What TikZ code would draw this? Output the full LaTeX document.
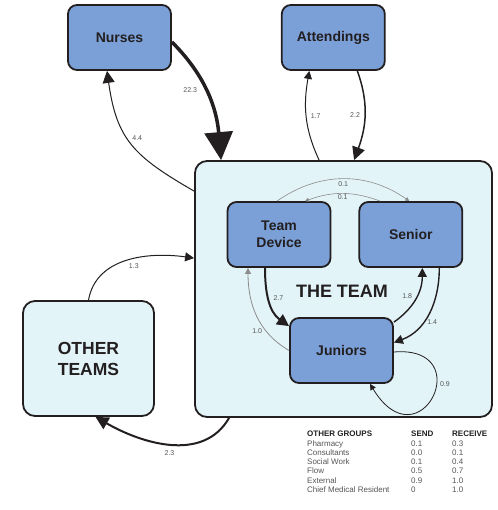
\documentclass[tikz,border=0pt]{standalone}
\usepackage{fontspec}
\setmainfont{Liberation Sans}
\usetikzlibrary{arrows.meta, positioning}
\usepackage{xcolor}
\definecolor{memberblue}{HTML}{7BA0D8}
\definecolor{teamfill}{HTML}{E3F4F9}
\definecolor{outline}{HTML}{231F20}
\definecolor{flowgray}{HTML}{8C8C8C}
\definecolor{labelgray}{HTML}{555555}

\begin{document}
\begin{tikzpicture}[
      x=1pt, y=1pt,
      member/.style={rectangle, draw=outline, line width=1.8pt, rounded corners=9pt, fill=memberblue, minimum width=103pt, minimum height=65pt, align=center, text=outline, font=\fontsize{14}{16.7}\selectfont\bfseries},
      group/.style={rectangle, draw=outline, line width=1.8pt, rounded corners=12pt, fill=teamfill, align=center, text=outline, font=\fontsize{17.5}{21}\selectfont\bfseries},
      flow/.style={draw=outline, line width=1pt},
      minor/.style={draw=flowgray, line width=0.6pt},
      arr/.style={-{Triangle[length=#1, width=#1]}},
      lbl/.style={font=\fontsize{7}{8}\selectfont, text=labelgray, inner sep=1pt}
    ]

    \useasboundingbox (0,0) rectangle (497,-510);

    % Nodes
    \node (team) [group, minimum width=297pt, minimum height=256pt] at (343.5,-289) {};
    \node (nurses) [member] at (119.5,-37.5) {Nurses};
    \node (attendings) [member, right=109pt of nurses] {Attendings};
    \node (dev) [member] at (279,-234.5) {Team\\Device};
    \node (senior) [member, right=27pt of dev] {Senior};
    \node (juniors) [member] at (341.5,-350.5) {Juniors};
    \node (teamname) [text=outline, font=\fontsize{18}{21}\selectfont\bfseries] at (342,-291) {THE TEAM};
    \node (other) [group, minimum width=131pt, minimum height=115pt] at (88.5,-358.5) {OTHER\\TEAMS};

    % Legend
    \node (legend) [anchor=north west, inner sep=0pt, text=labelgray, font=\fontsize{8}{9.3}\selectfont] at (307,-430) {%
      \begin{tabular}{@{}p{104pt}@{}p{41pt}@{}l@{}}
        \textcolor{outline}{\bfseries OTHER GROUPS} & \textcolor{outline}{\bfseries SEND} & \textcolor{outline}{\bfseries RECEIVE}\\
        Pharmacy & 0.1 & 0.3\\
        Consultants & 0.0 & 0.1\\
        Social Work & 0.1 & 0.4\\
        Flow & 0.5 & 0.7\\
        External & 0.9 & 1.0\\
        Chief Medical Resident & 0 & 1.0
      \end{tabular}};

    % Outside connections
    \draw [flow, line width=3.5pt, arr=28pt] ([yshift=-4.5pt]nurses.east) to[out=-45, in=95] node[lbl, pos=0.45, left=6pt] {22.3} ([xshift=27pt]team.north west);
    \draw [flow, arr=12pt] ([yshift=-31pt]team.north west) to[out=150, in=-82, looseness=1.2] node[lbl, pos=0.55, right=3pt] {4.4} ([xshift=-12.5pt]nurses.south);
    \draw [flow, arr=8pt] ([xshift=125pt]team.north west) to[out=115, in=-100] node[lbl, pos=0.5, right=3pt] {1.7} ([xshift=-24pt]attendings.south);
    \draw [flow, line width=1.5pt, arr=13pt] ([xshift=24pt]attendings.south) to[out=-70, in=70] node[lbl, pos=0.5, left=3pt] {2.2} ([xshift=160pt]team.north west);
    \draw [flow, arr=9pt] (other.north) to[out=80, in=172] node[lbl, pos=0.55, below=3pt] {1.3} ([yshift=-98pt]team.north west);
    \draw [flow, line width=2pt, arr=13pt] ([xshift=35pt]team.south west) to[out=-120, in=-30] node[lbl, pos=0.5, below=4pt] {2.3} ([xshift=7pt]other.south);

    % Inside the team
    \draw [minor, arr=4pt] ([xshift=-2pt]dev.north) to[out=35, in=145] node[lbl, below=1pt] {0.1} ([xshift=-1.5pt]senior.north);
    \draw [minor, arr=4pt] ([xshift=-30.5pt]senior.north) to[out=160, in=20] node[lbl, below=0pt] {0.1} ([xshift=26pt]dev.north);
    \draw [flow, line width=2pt, arr=12pt] ([xshift=-14pt]dev.south) to[out=-90, in=145] node[lbl, pos=0.45, right=3pt] {2.7} ([yshift=-9pt]juniors.north west);
    \draw [minor, line width=0.8pt, arr=6pt] (juniors.west) to[out=150, in=-90] node[lbl, pos=0.3, left=3pt] {1.0} ([xshift=-31pt]dev.south);
    \draw [flow, line width=1.4pt, arr=9pt] ([yshift=-5pt]juniors.north east) to[out=35, in=-90] node[lbl, pos=0.55, left=3pt] {1.8} ([xshift=11.5pt]senior.south);
    \draw [flow, line width=1.4pt, arr=9pt] ([xshift=28.5pt]senior.south) to[out=-90, in=20] node[lbl, pos=0.62, right=3pt] {1.4} ([yshift=8pt]juniors.east);
    \draw [flow, line width=0.8pt, arr=6pt] ([yshift=-1.5pt]juniors.east) .. controls +(85,7) and +(50,-82) .. node[lbl, pos=0.4, right=2pt] {0.9} ([xshift=28.5pt]juniors.south);

  \end{tikzpicture}
\end{document}
